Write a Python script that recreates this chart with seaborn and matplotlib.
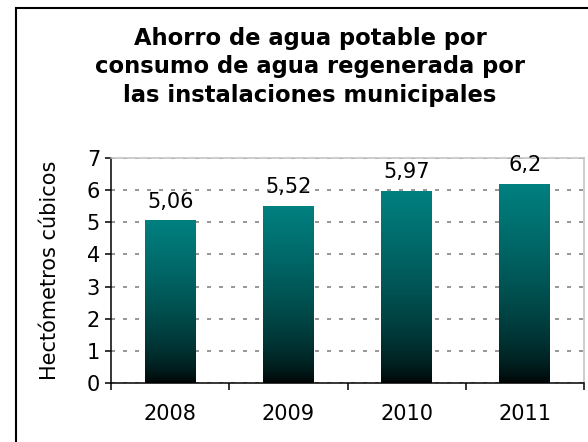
import numpy as np
import pandas as pd
import seaborn as sns
from matplotlib import pyplot as plt
from matplotlib.patches import Rectangle
from matplotlib.colors import LinearSegmentedColormap

years = ['2008', '2009', '2010', '2011']
hm3 = [5.06, 5.52, 5.97, 6.2]
value_labels = ['5,06', '5,52', '5,97', '6,2']

df = pd.DataFrame({'year': years, 'hm3': hm3})

sns.set_style('white')
plt.rcParams['font.family'] = ['DejaVu Sans']
plt.rcParams['text.color'] = 'black'
plt.rcParams['axes.labelcolor'] = 'black'
plt.rcParams['xtick.color'] = 'black'
plt.rcParams['ytick.color'] = 'black'

fig = plt.figure(figsize=(5.88, 4.42), dpi=100)
ax = fig.add_axes([0.189, 0.1335, 0.804, 0.509])

sns.barplot(data=df, x='year', y='hm3', color='#008080', width=0.43, ax=ax, zorder=2)

# teal -> black vertical gradient inside every bar
cmap = LinearSegmentedColormap.from_list('tealblack', ['#000000', '#008080'])
grad = (np.linspace(0, 1, 256) ** 0.6)[:, None]
for p in ax.patches:
    x0, y0 = p.get_x(), p.get_y()
    w, h = p.get_width(), p.get_height()
    im = ax.imshow(grad, cmap=cmap, vmin=0, vmax=1, origin='lower', aspect='auto',
                   extent=[x0, x0 + w, y0, y0 + h], zorder=3)
    im.set_clip_path(p)
    p.set_facecolor('none')
    p.set_edgecolor('none')

ax.set_xlim(-0.5, 3.5)
ax.set_ylim(0, 7)
ax.set_yticks(range(8))
ax.set_axisbelow(True)
ax.yaxis.grid(True, linestyle=(0, (2, 4)), color='#999999', linewidth=1.44)

for s in ['left', 'bottom']:
    ax.spines[s].set_color('black')
    ax.spines[s].set_linewidth(1.1)
for s in ['top', 'right']:
    ax.spines[s].set_color('#c0c0c0')
    ax.spines[s].set_linewidth(1.1)

ax.tick_params(axis='y', which='major', left=True, length=4, width=1.1, pad=4, labelsize=15)
ax.set_xticks([-0.5, 0.5, 1.5, 2.5, 3.5], minor=True)
ax.tick_params(axis='x', which='minor', bottom=True, length=5, width=1.1)
ax.tick_params(axis='x', which='major', bottom=False, length=0, pad=15, labelsize=15)

ax.set_xlabel('')
ax.set_ylabel('Hectómetros cúbicos', fontsize=15)
ax.yaxis.set_label_coords(-0.108, 0.5)

for i, v in enumerate(hm3):
    ax.text(i, v + 0.4, value_labels[i], ha='center', va='baseline', fontsize=15)

fig.text(310 / 588, 0.94,
         'Ahorro de agua potable por\nconsumo de agua regenerada por\nlas instalaciones municipales',
         ha='center', va='top', fontsize=16.3, fontweight='bold', linespacing=1.32)

fig.patches.append(Rectangle((16 / 588, -0.1), 1.2, 1.1 - 8 / 442, transform=fig.transFigure,
                             fill=False, edgecolor='black', linewidth=1.5))

fig.savefig('out.png', dpi=100)
